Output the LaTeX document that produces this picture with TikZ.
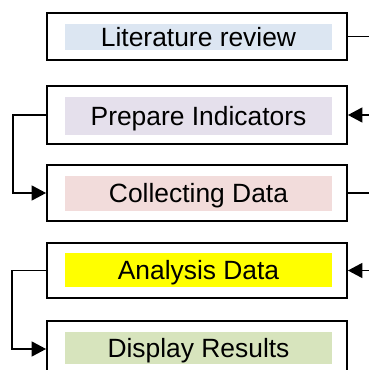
\documentclass[tikz,border=0pt]{standalone}
\usepackage{fontspec}
\setmainfont{Liberation Sans}
\usetikzlibrary{arrows.meta}
\definecolor{cLit}{HTML}{DCE6F2}
\definecolor{cPrep}{HTML}{E5E0EC}
\definecolor{cColl}{HTML}{F2DCDB}
\definecolor{cAnal}{HTML}{FFFF00}
\definecolor{cDisp}{HTML}{D7E4BD}
\tikzset{
  outerbox/.style={draw=black, line width=1.8pt, minimum width=300pt, inner sep=0pt, fill=white},
  innerfill/.style={fill=#1, minimum width=267pt, inner sep=0pt, text height=18.9pt, text depth=0pt,
    font=\fontsize{26.4}{30}\selectfont},
  conn/.style={line width=1.5pt, draw=black},
  arr/.style={conn, -{Triangle[length=14.5pt,width=15pt]}},
}
\begin{document}
\begin{tikzpicture}[x=1pt,y=1pt]
\useasboundingbox (0,0) rectangle (369,370);
% boxes
\node[outerbox, minimum height=47pt] (lit)  at (197,333.5) {};
\node[outerbox, minimum height=58pt] (prep) at (197,255) {};
\node[outerbox, minimum height=56pt] (coll) at (197,177) {};
\node[outerbox, minimum height=55pt] (anal) at (197,99.5) {};
\node[outerbox, minimum height=56pt] (disp) at (197,21) {};
% fills with text
\node[innerfill=cLit,  minimum height=26pt] (litf)  at (198.5,333) {Literature review};
\node[innerfill=cPrep, minimum height=38pt] (prepf) at (198.5,254) {Prepare Indicators};
\node[innerfill=cColl, minimum height=35pt] (collf) at (198.5,176.5) {Collecting Data};
\node[innerfill=cAnal, minimum height=34pt] (analf) at (198.5,100) {Analysis Data};
\node[innerfill=cDisp, minimum height=32pt] (dispf) at (198.5,22) {Display Results};
% right-edge free ends
\coordinate (rlit)  at (369,333.5);
\coordinate (rprep) at (369,255);
\coordinate (rcoll) at (369,177);
\coordinate (ranal) at (369,99.5);
% left connectors
\draw[arr] (prep.west) -- ++(-33,0) |- (coll.west);
\draw[arr] (anal.west) -- ++(-34,0) |- (disp.west);
% right connectors
\draw[conn] (lit.east) -- (rlit);
\draw[arr] (rprep) -- (prep.east);
\draw[conn] (coll.east) -- (rcoll);
\draw[arr] (ranal) -- (anal.east);
\end{tikzpicture}
\end{document}
